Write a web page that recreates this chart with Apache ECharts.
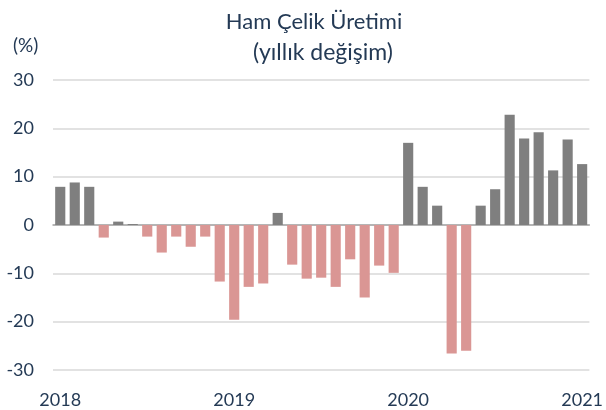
<!DOCTYPE html>
<html>
<head>
<meta charset="utf-8">
<script src="https://cdn.jsdelivr.net/npm/echarts@6/dist/echarts.min.js"></script>
<style>
  html, body { margin: 0; padding: 0; background: #fff; }
  #chart { width: 606px; height: 410px; }
</style>
</head>
<body>
<div id="chart"></div>
<script>
const months = [
  '2018-01', '2018-02', '2018-03', '2018-04', '2018-05', '2018-06',
  '2018-07', '2018-08', '2018-09', '2018-10', '2018-11', '2018-12',
  '2019-01', '2019-02', '2019-03', '2019-04', '2019-05', '2019-06',
  '2019-07', '2019-08', '2019-09', '2019-10', '2019-11', '2019-12',
  '2020-01', '2020-02', '2020-03', '2020-04', '2020-05', '2020-06',
  '2020-07', '2020-08', '2020-09', '2020-10', '2020-11', '2020-12',
  '2021-01'
]
const change = [
  7.9, 8.8, 7.9, -2.6, 0.7, 0.2, -2.4, -5.7, -2.4, -4.5, -2.4, -11.7,
  -19.6, -12.8, -12.1, 2.5, -8.2, -11.1, -10.9, -12.8, -7.1, -15.0, -8.4, -9.9,
  17.0, 7.9, 4.0, -26.6, -26.0, 4.0, 7.4, 22.8, 17.9, 19.2, 11.3, 17.7,
  12.6
]
const yTicks = [-30, -20, -10, 0, 10, 20, 30]

const textColor = '#243a55'
const chart = echarts.init(document.getElementById('chart'))
chart.setOption({
  animation: false,
  textStyle: { fontFamily: 'Lato' },
  title: [
    {
      text: 'Ham Çelik Üretimi',
      left: 309,
      top: 6,
      textAlign: 'center',
      textStyle: { color: textColor, fontSize: 22, fontWeight: 'normal', fontFamily: 'Lato' }
    },
    {
      text: '(yıllık değişim)',
      left: 318,
      top: 36,
      textAlign: 'center',
      textStyle: { color: textColor, fontSize: 23, fontWeight: 'normal', fontFamily: 'Lato' }
    },
    {
      text: '(%)',
      left: 8,
      top: 31,
      textStyle: { color: textColor, fontSize: 19, fontWeight: 'normal', fontFamily: 'Lato' }
    }
  ],
  grid: {
    left: 53,
    right: 15,
    top: 80,
    bottom: 40
  },
  xAxis: {
    type: 'category',
    data: months,
    axisTick: { show: false },
    axisLine: { onZero: true, lineStyle: { color: '#a6a6a6', width: 1.5 } },
    axisLabel: {
      interval: (index) => index % 12 === 0,
      color: textColor,
      fontSize: 18,
      margin: 21,
      formatter: (value) => value.slice(0, 4)
    }
  },
  yAxis: {
    type: 'value',
    min: yTicks[0],
    max: yTicks[yTicks.length - 1],
    interval: 10,
    axisLine: { show: false },
    axisTick: { show: false },
    axisLabel: { color: textColor, fontSize: 18, margin: 19 },
    splitLine: { lineStyle: { color: '#d9d9d9', width: 1.5 } }
  },
  series: [
    {
      type: 'bar',
      data: change,
      barCategoryGap: '30%',
      itemStyle: {
        color: (p) => (p.value >= 0 ? '#7f7f7f' : '#da9694')
      }
    }
  ]
})
</script>
</body>
</html>
